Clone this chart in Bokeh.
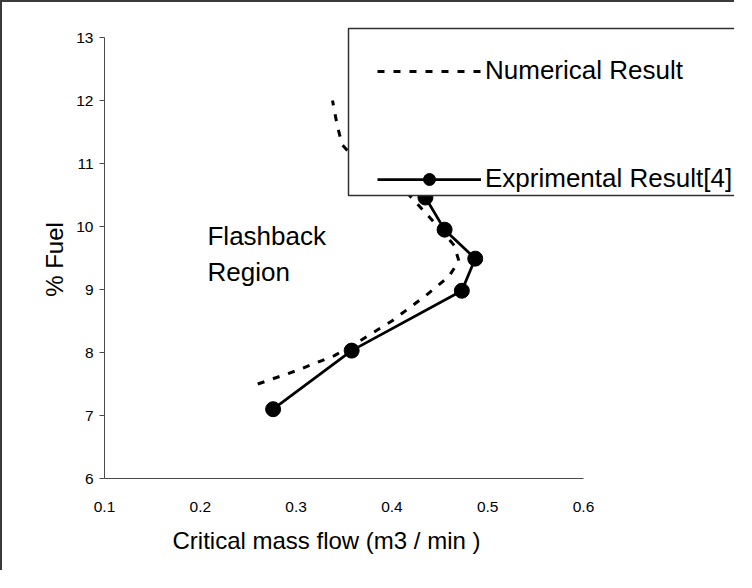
import math
from bokeh.plotting import figure
from bokeh.models import (FixedTicker, PrintfTickFormatter, Legend, LegendItem,
                          BoxAnnotation, Label, Range1d)
from bokeh.embed import file_html
from bokeh.resources import INLINE

# ---- data ----
num_x = [0.26, 0.30, 0.34, 0.365, 0.40, 0.435, 0.459, 0.47, 0.465, 0.448, 0.43,
         0.418, 0.39, 0.36, 0.348, 0.343, 0.338]
num_y = [7.5, 7.71, 7.95, 8.17, 8.5, 8.9, 9.2, 9.45, 9.7, 10.0, 10.3,
         10.5, 10.8, 11.1, 11.3, 11.6, 12.0]
exp_x = [0.276, 0.358, 0.473, 0.487, 0.455, 0.435]
exp_y = [7.1, 8.03, 8.98, 9.49, 9.95, 10.46]

x_ticks = [0.1, 0.2, 0.3, 0.4, 0.5, 0.6]
y_ticks = [6, 7, 8, 9, 10, 11, 12, 13]
x_title = "Critical mass flow (m3 / min )"
y_title = "% Fuel"
series_names = ["Numerical Result", "Exprimental Result[4]"]
region_text = ["Flashback", "Region"]
region_pos = [(0.2075, 9.857), (0.2075, 9.27)]

FONT = "Liberation Sans"

# ---- layout (canvas pixels) ----
W, H = 734, 570
AX_LEFT, AX_TOP, AX_BOTTOM = 102, 35, 476   # where x=0.1, y=13, y=6 fall
PX_X = 958.0   # px per x unit
PX_Y = (AX_BOTTOM - AX_TOP) / (y_ticks[-1] - y_ticks[0])

x0 = x_ticks[0] - AX_LEFT / PX_X
x1 = x_ticks[0] + (W - AX_LEFT) / PX_X
y0 = y_ticks[0] - (H - AX_BOTTOM) / PX_Y
y1 = y_ticks[-1] + AX_TOP / PX_Y

p = figure(width=W, height=H, output_backend="svg", toolbar_location=None,
           title=None, x_range=Range1d(x0, x1), y_range=Range1d(y0, y1),
           min_border_left=0, min_border_right=0, min_border_top=0,
           min_border_bottom=0)
p.styles = {"border-top": "2px solid #3a3a3a", "border-left": "2px solid #3a3a3a"}
p.outline_line_color = None
p.background_fill_color = "white"
p.border_fill_color = "white"
p.xgrid.visible = False
p.ygrid.visible = False

AX = "#4a4a4a"
for ax in (p.xaxis[0], p.yaxis[0]):
    ax.axis_line_color = AX
    ax.axis_line_width = 1
    ax.major_tick_line_color = AX
    ax.minor_tick_line_color = None
    ax.major_tick_in = 0
    ax.major_label_text_font = FONT
    ax.major_label_text_font_size = "15.5px"
    ax.major_label_text_color = "black"

p.xaxis.ticker = FixedTicker(ticks=x_ticks)
p.xaxis.bounds = (x_ticks[0], x_ticks[-1])
p.xaxis.fixed_location = y_ticks[0]
p.xaxis.formatter = PrintfTickFormatter(format="%.1f")
p.xaxis.major_tick_out = 0
p.xaxis.major_label_standoff = 23

p.yaxis.ticker = FixedTicker(ticks=y_ticks)
p.yaxis.bounds = (y_ticks[0], y_ticks[-1])
p.yaxis.fixed_location = x_ticks[0]
p.yaxis.formatter = PrintfTickFormatter(format="%d")
p.yaxis.major_tick_out = 5
p.yaxis.major_label_standoff = 6

# axis titles
p.add_layout(Label(x=322, y=536, x_units="canvas", y_units="canvas", text=x_title,
                   text_font=FONT, text_font_size="24px", text_color="black",
                   text_align="center", text_baseline="middle"))
p.add_layout(Label(x=50, y=255, x_units="canvas", y_units="canvas", text=y_title,
                   angle=math.pi / 2,
                   text_font=FONT, text_font_size="24px", text_color="black",
                   text_align="center", text_baseline="middle"))

r_num = p.line(num_x, num_y, line_color="black", line_width=3, line_dash="7 9")
r_exp = p.line(exp_x, exp_y, line_color="black", line_width=2.75)
r_pts = p.scatter(exp_x, exp_y, size=15, fill_color="black", line_color="black")

for txt, (tx, ty) in zip(region_text, region_pos):
    p.add_layout(Label(x=tx, y=ty, text=txt, text_font=FONT, text_font_size="26px",
                       text_baseline="middle", text_align="left", text_color="black"))

box = BoxAnnotation(left=344, right=900, top=24, bottom=191,
                    left_units="canvas", right_units="canvas",
                    top_units="canvas", bottom_units="canvas",
                    fill_color="white", fill_alpha=1.0,
                    line_color="#303030", line_width=1.5, line_alpha=1.0)
p.add_layout(box)

legend = Legend(items=[LegendItem(label=series_names[0], renderers=[r_num]),
                       LegendItem(label=series_names[1], renderers=[r_exp, r_pts])],
                location=(375, 378), margin=0, padding=0, spacing=77,
                glyph_width=104, glyph_height=30, label_height=30,
                label_standoff=4, label_text_font=FONT, label_text_font_size="26px",
                label_text_color="black", background_fill_alpha=0,
                border_line_color=None)
p.add_layout(legend)

open("out.html", "w").write(file_html(p, INLINE))
